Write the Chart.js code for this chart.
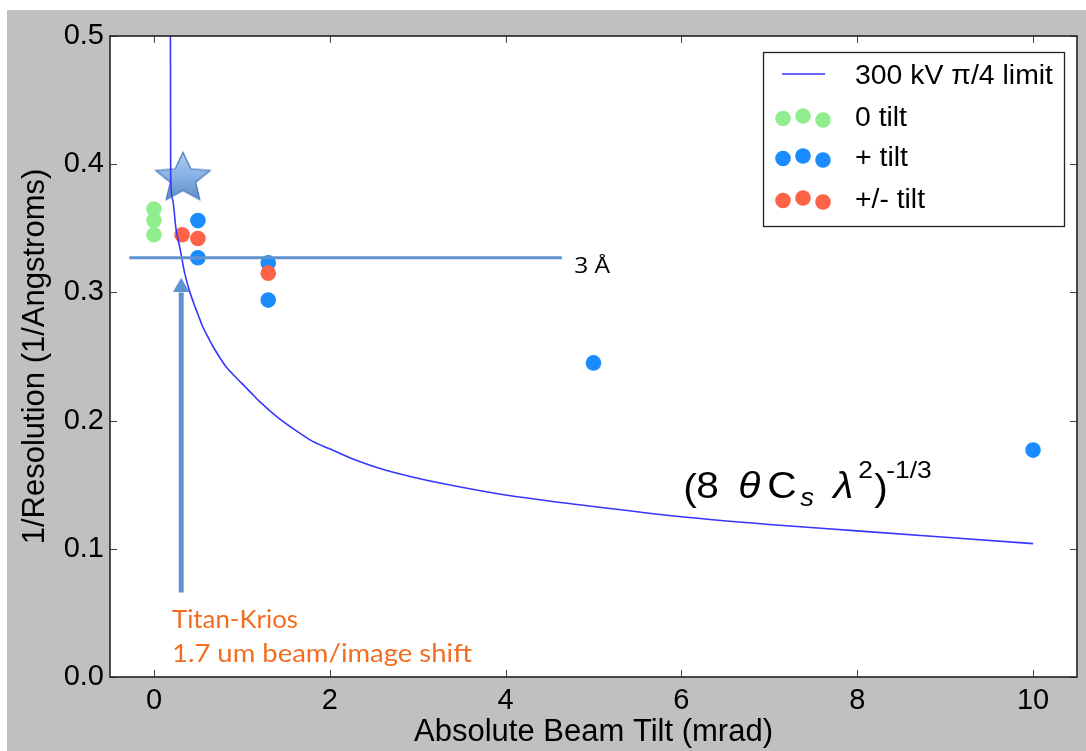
<!DOCTYPE html>
<html><head><meta charset="utf-8">
<script src="https://cdn.jsdelivr.net/npm/chart.js@4/dist/chart.umd.min.js"></script>
<style>html,body{margin:0;padding:0;background:#fff;overflow:hidden}canvas{display:block}</style>
</head><body>
<canvas id="c" width="1086" height="751" style="width:1086px;height:751px"></canvas>
<script>
// ---- data ----
const limitX = [0.185, 0.19, 0.21, 0.25, 0.30, 0.35, 0.40, 0.45, 0.50, 0.55, 0.60, 0.67, 0.75, 0.82, 0.90, 1.00, 1.10, 1.20, 1.40, 1.60, 1.80, 2.00, 2.30, 2.60, 3.00, 3.50, 4.00, 5.00, 6.00, 7.00, 8.00, 9.00, 10.0];
const limitY = [0.62, 0.39, 0.373, 0.350, 0.333, 0.315, 0.302, 0.292, 0.283, 0.274, 0.267, 0.258, 0.249, 0.242, 0.236, 0.229, 0.222, 0.215, 0.203, 0.193, 0.184, 0.178, 0.169, 0.162, 0.155, 0.148, 0.142, 0.133, 0.125, 0.119, 0.114, 0.109, 0.104];
const zeroTiltX = [0, 0, 0];
const zeroTiltY = [0.365, 0.356, 0.345];
const plusTiltX = [0.5, 0.5, 1.3, 1.3, 5, 10];
const plusTiltY = [0.356, 0.327, 0.323, 0.294, 0.245, 0.177];
const pmTiltX = [0.32, 0.5, 1.3];
const pmTiltY = [0.345, 0.342, 0.315];
const starX = [0.33];
const starY = [0.3896];
const refLineX = [-0.28, 4.64];
const refLineY = [0.327, 0.327];
const arrowX = [0.31, 0.31];
const arrowY = [0.066, 0.300];
const arrowHeadY = [0.304];
const xTicks = [0, 2, 4, 6, 8, 10];
const yTicks = [0, 0.1, 0.2, 0.3, 0.4, 0.5];
const seriesNames = ['300 kV \u03c0/4 limit', '0 tilt', '+ tilt', '+/- tilt'];
const refLabel = '3 \u00c5';
const noteLines = ['Titan-Krios', '1.7 um beam/image shift'];

// ---- styles ----
const W = 1086, H = 751;
const C_LIMIT = '#3636ff', C_GREEN = '#90ee90', C_BLUE = '#1a8cff', C_RED = '#ff6347';
const C_ANN = '#5f93cf', C_NOTE = '#f26d21';
const SANS = '"Liberation Sans", Arial, Helvetica, sans-serif';

function pts(xs, ys) { return xs.map((x, i) => ({x, y: ys[i]})); }

// star image used as point style
function makeStar() {
  const cv = document.createElement('canvas');
  cv.width = 66; cv.height = 60;
  const g = cv.getContext('2d');
  const cx = 33, cy = 31, R = 26, r = 12;
  g.save();
  g.translate(cx, cy); g.scale(1.1, 1);
  g.beginPath();
  for (let i = 0; i < 10; i++) {
    const a = -Math.PI / 2 + i * Math.PI / 5;
    const rr = i % 2 === 0 ? R : r;
    const px = Math.cos(a) * rr, py = Math.sin(a) * rr;
    if (i === 0) g.moveTo(px, py); else g.lineTo(px, py);
  }
  g.closePath();
  const grd = g.createLinearGradient(0, -R, 0, R * 0.8);
  grd.addColorStop(0, '#a9caf0'); grd.addColorStop(0.5, '#7ca9e1'); grd.addColorStop(1, '#4f84c6');
  g.fillStyle = grd; g.globalAlpha = 0.9; g.fill();
  g.globalAlpha = 1; g.lineWidth = 1.2; g.strokeStyle = '#4a7cbf'; g.stroke();
  g.restore();
  return cv;
}
const starImg = makeStar();

function fitText(ctx, text, x, y, targetW) {
  const w = ctx.measureText(text).width;
  ctx.save(); ctx.translate(x, y); ctx.scale(targetW / w, 1); ctx.fillText(text, 0, 0); ctx.restore();
}
function wideText(ctx, text, x, y, k) {
  ctx.save(); ctx.translate(x, y); ctx.scale(k, 1); ctx.fillText(text, 0, 0); ctx.restore();
}

const deco = {
  id: 'deco',
  beforeDraw(chart) {
    const ctx = chart.ctx, a = chart.chartArea;
    ctx.save();
    ctx.fillStyle = '#fff'; ctx.fillRect(0, 0, W, H);
    ctx.fillStyle = '#c0c0c0'; ctx.fillRect(7, 10, W - 7, H - 10);
    ctx.fillStyle = '#fff'; ctx.fillRect(a.left, a.top, a.right - a.left, a.bottom - a.top);
    ctx.restore();
  },
  afterDraw(chart) {
    const ctx = chart.ctx, a = chart.chartArea;
    const xs = chart.scales.x, ys = chart.scales.y;
    ctx.save();
    // inward ticks on all sides
    ctx.strokeStyle = '#444'; ctx.lineWidth = 1;
    ctx.beginPath();
    xTicks.forEach(v => {
      const p = Math.round(xs.getPixelForValue(v)) + 0.5;
      ctx.moveTo(p, a.bottom); ctx.lineTo(p, a.bottom - 7);
      ctx.moveTo(p, a.top); ctx.lineTo(p, a.top + 7);
    });
    yTicks.forEach(v => {
      const p = Math.round(ys.getPixelForValue(v)) + 0.5;
      ctx.moveTo(a.left, p); ctx.lineTo(a.left + 7, p);
      ctx.moveTo(a.right, p); ctx.lineTo(a.right - 7, p);
    });
    ctx.stroke();
    // frame
    ctx.strokeStyle = '#222'; ctx.lineWidth = 1.6;
    ctx.strokeRect(a.left, a.top, a.right - a.left, a.bottom - a.top);

    // "3 Å" label next to the reference line
    ctx.fillStyle = '#000'; ctx.textBaseline = 'alphabetic'; ctx.textAlign = 'left';
    ctx.font = '21px "Open Sans", ' + SANS;
    fitText(ctx, refLabel, xs.getPixelForValue(4.78), ys.getPixelForValue(0.3155), 36);

    // Titan-Krios note
    ctx.fillStyle = C_NOTE;
    ctx.font = '25px Lato, "Open Sans", sans-serif';
    fitText(ctx, noteLines[0], xs.getPixelForValue(0.205), ys.getPixelForValue(0.038), 126);
    fitText(ctx, noteLines[1], xs.getPixelForValue(0.205), ys.getPixelForValue(0.0115), 300);

    // formula
    const fx = xs.getPixelForValue(6.02), fy = ys.getPixelForValue(0.1396);
    ctx.fillStyle = '#000';
    const piece = (t, dx, dy, font) => { ctx.font = font; wideText(ctx, t, fx + dx, fy + dy, 1.1); };
    const big = '37px ' + SANS, bigI = 'italic 37px ' + SANS, sm = '24px ' + SANS, smI = 'italic 25px ' + SANS;
    piece('(', 0, 2, big);
    piece('8', 13, 0, big);
    piece('\u03b8', 55, 0, bigI);
    piece('C', 84, 0, big);
    piece('s', 117, 8, smI);
    piece('\u03bb', 150, 0, bigI);
    piece('2', 175, -20, sm);
    piece(')', 191, 2, big);
    piece('-1/3', 203, -20, sm);

    // legend
    const lx = 763, ly = 52, lw = 301, lh = 174;
    ctx.fillStyle = '#fff'; ctx.fillRect(lx, ly, lw, lh);
    ctx.strokeStyle = '#222'; ctx.lineWidth = 1.3; ctx.strokeRect(lx + 0.5, ly + 0.5, lw, lh);
    ctx.strokeStyle = C_LIMIT; ctx.lineWidth = 1.6;
    ctx.beginPath(); ctx.moveTo(782, 74); ctx.lineTo(825, 74); ctx.stroke();
    const rows = [[C_GREEN, 118], [C_BLUE, 158], [C_RED, 200]];
    const offs = [[783, 0.5], [803, -2], [823, 2]];
    rows.forEach(([col, cy]) => {
      ctx.fillStyle = col;
      offs.forEach(([dx, dy]) => { ctx.beginPath(); ctx.arc(dx, cy + dy, 7.8, 0, Math.PI * 2); ctx.fill(); });
    });
    ctx.fillStyle = '#000'; ctx.textBaseline = 'middle';
    ctx.font = '27px ' + SANS;
    fitText(ctx, seriesNames[0], 855, 77, 198);
    fitText(ctx, seriesNames[1], 855, 119, 52);
    fitText(ctx, seriesNames[2], 855, 159, 53);
    fitText(ctx, seriesNames[3], 855, 201, 70);
    ctx.restore();
  }
};

new Chart(document.getElementById('c'), {
  type: 'scatter',
  data: {
    datasets: [
      {label: 'ref line', type: 'line', data: pts(refLineX, refLineY), borderColor: C_ANN, borderWidth: 3, pointRadius: 0, fill: false, order: 0},
      {label: 'arrow', type: 'line', data: pts(arrowX, arrowY), borderColor: C_ANN, borderWidth: 5, pointRadius: 0, fill: false, borderCapStyle: 'butt', order: 0},
      {label: 'arrow head', data: pts([arrowX[1]], arrowHeadY), pointStyle: 'triangle', pointRadius: 9.5, backgroundColor: C_ANN, borderWidth: 0, order: 0},
      {label: seriesNames[0], type: 'line', data: pts(limitX, limitY), borderColor: C_LIMIT, borderWidth: 1.6, pointRadius: 0, fill: false, cubicInterpolationMode: 'monotone', order: 1},
      {label: 'star', data: pts(starX, starY), pointStyle: starImg, pointRadius: 25, order: 2},
      {label: seriesNames[3], data: pts(pmTiltX, pmTiltY), backgroundColor: C_RED, borderWidth: 0, pointRadius: 7.8, order: 3},
      {label: seriesNames[2], data: pts(plusTiltX, plusTiltY), backgroundColor: C_BLUE, borderWidth: 0, pointRadius: 7.8, order: 4},
      {label: seriesNames[1], data: pts(zeroTiltX, zeroTiltY), backgroundColor: C_GREEN, borderWidth: 0, pointRadius: 7.8, order: 5}
    ]
  },
  options: {
    responsive: false, animation: false, devicePixelRatio: 1,
    layout: {autoPadding: false, padding: {left: 0, top: 36, right: 9, bottom: 0}},
    plugins: {legend: {display: false}, tooltip: {enabled: false}},
    scales: {
      x: {
        type: 'linear', min: -0.5, max: 10.5,
        afterBuildTicks: s => { s.ticks = xTicks.map(v => ({value: v})); },
        afterFit: s => { s.height = 74; s.paddingLeft = 0; s.paddingRight = 0; },
        grid: {display: false, drawTicks: false}, border: {display: false},
        ticks: {padding: 7, color: '#000', font: {family: SANS, size: 29}, callback: v => String(v)},
        title: {display: true, text: 'Absolute Beam Tilt (mrad)', color: '#000', font: {family: SANS, size: 31}, padding: {top: 0, bottom: 0}}
      },
      y: {
        type: 'linear', min: 0, max: 0.5,
        afterBuildTicks: s => { s.ticks = yTicks.map(v => ({value: v})); },
        afterFit: s => { s.width = 110; s.paddingTop = 0; s.paddingBottom = 0; },
        grid: {display: false, drawTicks: false}, border: {display: false},
        ticks: {padding: 6, color: '#000', font: {family: SANS, size: 29}, callback: v => Number(v).toFixed(1)},
        title: {display: true, text: '1/Resolution (1/Angstroms)', color: '#000', font: {family: SANS, size: 31}, padding: {top: 17, bottom: 0}}
      }
    }
  },
  plugins: [deco]
});
</script>
</body></html>
